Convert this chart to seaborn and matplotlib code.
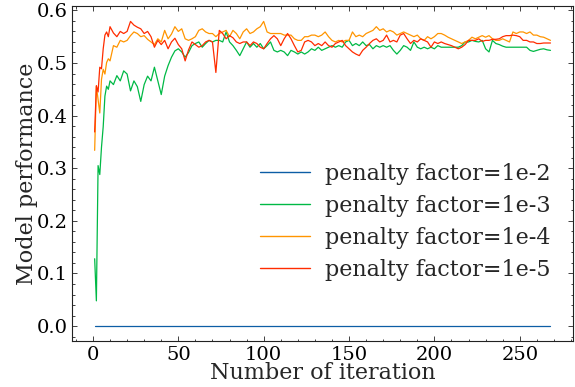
import pandas as pd
import numpy as np
import matplotlib
matplotlib.use("Agg")
import matplotlib.pyplot as plt
import seaborn as sns
from matplotlib.ticker import MultipleLocator

iters = list(range(1, 11)) + list(range(12, 269, 2))

pf_1e2 = [0.0] * len(iters)

pf_1e3 = [0.128, 0.048, 0.305, 0.288, 0.340, 0.379, 0.437, 0.456, 0.450, 0.466,
          0.459, 0.476, 0.466, 0.485, 0.479, 0.447, 0.466, 0.455, 0.427, 0.459,
          0.475, 0.466, 0.492, 0.466, 0.440, 0.475, 0.495, 0.511, 0.523, 0.527,
          0.521, 0.511, 0.520, 0.533, 0.537, 0.540, 0.530, 0.537, 0.543, 0.540,
          0.543, 0.543, 0.540, 0.559, 0.540, 0.533, 0.524, 0.514, 0.527, 0.540,
          0.530, 0.537, 0.530, 0.537, 0.527, 0.533, 0.540, 0.524, 0.521, 0.524,
          0.521, 0.514, 0.524, 0.521, 0.517, 0.521, 0.517, 0.521, 0.527, 0.524,
          0.530, 0.524, 0.527, 0.530, 0.533, 0.530, 0.533, 0.530, 0.540, 0.543,
          0.533, 0.537, 0.533, 0.540, 0.533, 0.535, 0.527, 0.533, 0.530, 0.533,
          0.530, 0.533, 0.524, 0.517, 0.524, 0.533, 0.530, 0.524, 0.540, 0.530,
          0.527, 0.530, 0.527, 0.530, 0.527, 0.533, 0.530, 0.530, 0.530, 0.530,
          0.530, 0.530, 0.533, 0.540, 0.540, 0.543, 0.541, 0.540, 0.543, 0.527,
          0.521, 0.543, 0.537, 0.535, 0.532, 0.530, 0.530, 0.530, 0.530, 0.530,
          0.530, 0.530, 0.524, 0.522, 0.524, 0.526, 0.527, 0.525, 0.524]

pf_1e4 = [0.334, 0.456, 0.430, 0.405, 0.469, 0.488, 0.479, 0.501, 0.508, 0.504,
          0.533, 0.530, 0.543, 0.540, 0.543, 0.552, 0.559, 0.556, 0.550, 0.552,
          0.545, 0.540, 0.535, 0.546, 0.540, 0.562, 0.546, 0.555, 0.569, 0.560,
          0.565, 0.546, 0.543, 0.546, 0.550, 0.562, 0.565, 0.559, 0.556, 0.556,
          0.550, 0.556, 0.559, 0.562, 0.550, 0.562, 0.556, 0.546, 0.559, 0.565,
          0.556, 0.559, 0.565, 0.569, 0.579, 0.559, 0.556, 0.556, 0.556, 0.556,
          0.553, 0.553, 0.553, 0.546, 0.543, 0.543, 0.550, 0.550, 0.553, 0.553,
          0.550, 0.553, 0.559, 0.550, 0.543, 0.540, 0.543, 0.540, 0.543, 0.543,
          0.559, 0.550, 0.553, 0.550, 0.556, 0.559, 0.562, 0.569, 0.562, 0.565,
          0.559, 0.562, 0.559, 0.553, 0.556, 0.559, 0.556, 0.553, 0.550, 0.553,
          0.546, 0.543, 0.550, 0.546, 0.550, 0.556, 0.556, 0.553, 0.549, 0.546,
          0.543, 0.540, 0.537, 0.540, 0.543, 0.549, 0.546, 0.549, 0.552, 0.549,
          0.552, 0.546, 0.543, 0.543, 0.546, 0.543, 0.540, 0.559, 0.556, 0.559,
          0.559, 0.556, 0.559, 0.553, 0.553, 0.550, 0.549, 0.546, 0.543]

pf_1e5 = [0.369, 0.457, 0.445, 0.492, 0.489, 0.527, 0.553, 0.559, 0.550, 0.569,
          0.557, 0.550, 0.560, 0.556, 0.560, 0.579, 0.572, 0.568, 0.565, 0.556,
          0.560, 0.550, 0.530, 0.543, 0.535, 0.543, 0.527, 0.540, 0.547, 0.535,
          0.527, 0.504, 0.525, 0.540, 0.535, 0.530, 0.533, 0.540, 0.543, 0.540,
          0.482, 0.562, 0.556, 0.546, 0.552, 0.548, 0.540, 0.537, 0.540, 0.540,
          0.533, 0.540, 0.537, 0.530, 0.527, 0.537, 0.546, 0.552, 0.546, 0.533,
          0.546, 0.556, 0.546, 0.533, 0.521, 0.524, 0.540, 0.543, 0.540, 0.533,
          0.537, 0.533, 0.540, 0.533, 0.530, 0.537, 0.540, 0.543, 0.533, 0.527,
          0.521, 0.517, 0.514, 0.524, 0.530, 0.537, 0.543, 0.546, 0.540, 0.543,
          0.553, 0.540, 0.543, 0.540, 0.553, 0.556, 0.546, 0.537, 0.543, 0.540,
          0.546, 0.543, 0.540, 0.530, 0.540, 0.537, 0.540, 0.537, 0.535, 0.533,
          0.530, 0.527, 0.530, 0.535, 0.543, 0.543, 0.543, 0.546, 0.541, 0.543,
          0.543, 0.545, 0.545, 0.546, 0.550, 0.552, 0.552, 0.553, 0.552, 0.550,
          0.543, 0.543, 0.540, 0.540, 0.537, 0.537, 0.538, 0.538, 0.538]

labels = ["penalty factor=1e-2", "penalty factor=1e-3",
          "penalty factor=1e-4", "penalty factor=1e-5"]
colors = ["#0C5DA5", "#00B945", "#FF9500", "#FF2C00"]

frames = []
for lab, vals in zip(labels, [pf_1e2, pf_1e3, pf_1e4, pf_1e5]):
    frames.append(pd.DataFrame({"iteration": iters, "performance": vals,
                                "factor": lab}))
df = pd.concat(frames, ignore_index=True)

sns.set_style("ticks")
plt.rcParams["font.family"] = "DejaVu Serif"
plt.rcParams["mathtext.fontset"] = "dejavuserif"

fig, ax = plt.subplots(figsize=(5.75, 3.87), dpi=100)
fig.subplots_adjust(left=0.125, right=0.997, bottom=0.118, top=0.984)

sns.lineplot(data=df, x="iteration", y="performance", hue="factor",
             palette=colors, linewidth=0.9, ax=ax)

ax.set_xlabel("Number of iteration", fontsize=16, labelpad=-1)
ax.set_ylabel("Model performance", fontsize=16, labelpad=-1)

ax.xaxis.set_major_locator(MultipleLocator(50))
ax.xaxis.set_minor_locator(MultipleLocator(10))
ax.yaxis.set_major_locator(MultipleLocator(0.1))
ax.yaxis.set_minor_locator(MultipleLocator(0.02))
ax.tick_params(which="both", direction="in", top=True, right=True,
               labelsize=14, width=0.6, colors="#222222", labelcolor="black",
               pad=3)
ax.tick_params(which="major", length=3.5)
ax.tick_params(which="minor", length=1.8)
for sp in ax.spines.values():
    sp.set_linewidth(0.8)
    sp.set_color("#222222")

leg = ax.legend(loc="lower right", bbox_to_anchor=(0.994, 0.12), frameon=False,
                fontsize=16, handlelength=2.25, handletextpad=0.68,
                labelspacing=0.45)
for line in leg.get_lines():
    line.set_linewidth(1.0)

fig.savefig("out.png", dpi=100)
